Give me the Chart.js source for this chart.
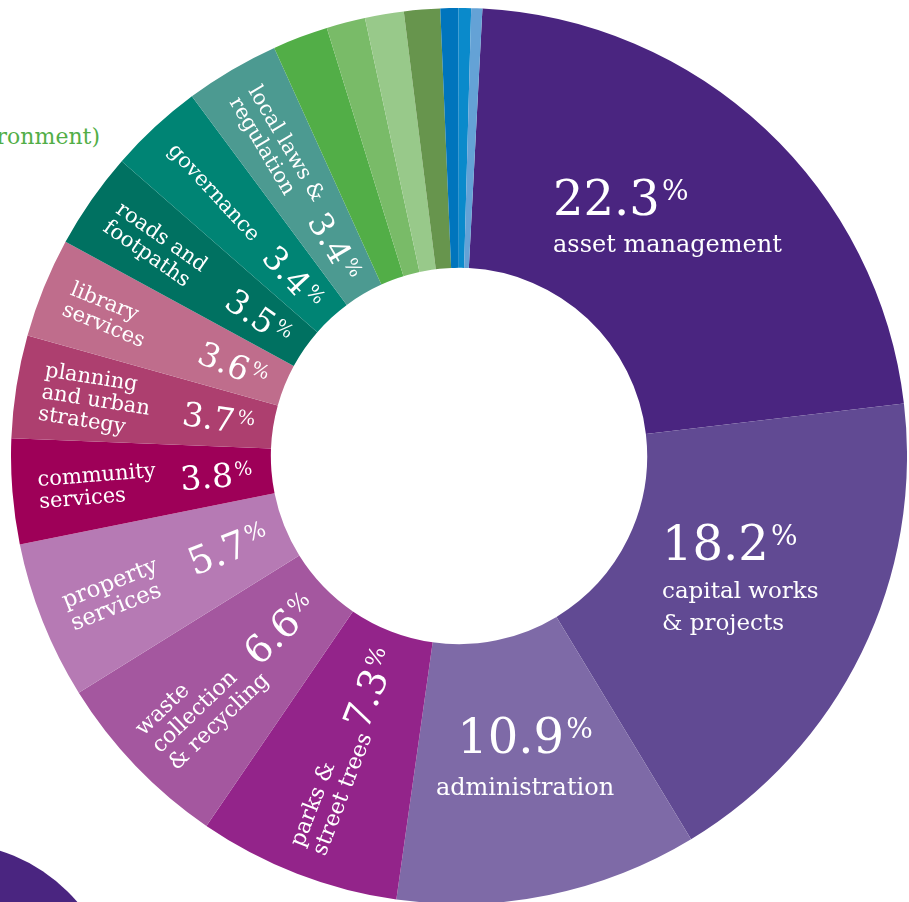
<!DOCTYPE html>
<html>
<head>
<meta charset="utf-8">
<title>Where the money goes</title>
<script src="https://cdn.jsdelivr.net/npm/chart.js@4.4.1/dist/chart.umd.min.js"></script>
<style>
  html, body { margin: 0; padding: 0; background: #fff; overflow: hidden; }
  body { width: 909px; height: 902px; position: relative; }
  #spend { position: absolute; left: 11px; top: 8px; }
  .env { position: absolute; right: 809px; top: 126px; font: 22px/22px "DejaVu Serif", serif; color: #52ae47; white-space: nowrap; }
  .dot { position: absolute; left: -217px; top: 843px; width: 334px; height: 334px; border-radius: 50%; background: #4a2580; }
</style>
</head>
<body>
<div class="env">(environment)</div>
<div class="dot"></div>
<canvas id="spend" width="896" height="896"></canvas>
<script>
// spend by service area, % of total
const services = [
  'asset management', 'capital works & projects', 'administration',
  'parks & street trees', 'waste collection & recycling', 'property services',
  'community services', 'planning and urban strategy', 'library services',
  'roads and footpaths', 'governance', 'local laws & regulation',
  'environment 1', 'environment 2', 'environment 3', 'environment 4',
  'other 1', 'other 2', 'other 3'
];
const shares = [22.3, 18.2, 10.9, 7.3, 6.6, 5.7, 3.8, 3.7, 3.6, 3.5, 3.4, 3.4,
  2.0, 1.4, 1.4, 1.3, 0.65, 0.45, 0.4];
const sliceColors = [
  '#4a2580', '#614a93', '#7e6aa7', '#93248a', '#a4579f', '#b67ab4',
  '#9e0058', '#ad3f6f', '#bf6d8c', '#007161', '#008474', '#4c9a91',
  '#52ae47', '#79bb68', '#98c98a', '#67954d', '#0075bd', '#0a8acb', '#64a2d6'
];
// how each service name is broken over lines inside its slice
const labelLines = [
  ['asset management'], ['capital works', '& projects'], ['administration'],
  ['parks &', 'street trees'], ['waste', 'collection', '& recycling'], ['property', 'services'],
  ['community', 'services'], ['planning', 'and urban', 'strategy'], ['library', 'services'],
  ['roads and', 'footpaths'], ['governance'], ['local laws &', 'regulation']
];

const serif = '"DejaVu Serif", "Liberation Serif", serif';

// big slices get flat text placed from the centre, the rest run along the slice
const layout = [
  { flat: true, x: 94, y: -241, align: 'left', pct: 48, name: 24, gap: 37, lh: 32 },
  { flat: true, x: 203, y: 104, align: 'left', pct: 48, name: 23, gap: 38, lh: 32 },
  { flat: true, x: 66, y: 297, align: 'center', pct: 48, name: 24, gap: 42, lh: 32 },
  { pct: 38, name: 22, lh: 24 },
  { pct: 38, name: 22, lh: 24 },
  { pct: 38, name: 23, lh: 24 },
  { pct: 33, name: 21, lh: 22 },
  { pct: 33, name: 21, lh: 22 },
  { pct: 33, name: 21, lh: 22 },
  { pct: 33, name: 21, lh: 22 },
  { pct: 33, name: 21, lh: 22 },
  { pct: 33, name: 21, lh: 22 }
];
const nameStart = 422;
const pctEnd = 207;

function drawPct(ctx, num, x, baseY, size, align) {
  const small = Math.round(size * 0.58);
  ctx.font = size + 'px ' + serif;
  const w1 = ctx.measureText(num).width;
  ctx.font = small + 'px ' + serif;
  const w2 = ctx.measureText('%').width;
  const total = w1 + 2 + w2;
  let sx = x;
  if (align === 'center') sx = x - total / 2;
  else if (align === 'right') sx = x - total;
  ctx.textAlign = 'left';
  ctx.font = size + 'px ' + serif;
  ctx.fillText(num, sx, baseY);
  ctx.font = small + 'px ' + serif;
  ctx.fillText('%', sx + w1 + 2, baseY - 0.73 * size + 0.73 * small);
}

const sliceLabels = {
  id: 'sliceLabels',
  afterDatasetsDraw(chart) {
    const ctx = chart.ctx;
    const arcs = chart.getDatasetMeta(0).data;
    const cx = arcs[0].x, cy = arcs[0].y;
    ctx.save();
    ctx.fillStyle = '#fff';
    ctx.textBaseline = 'alphabetic';
    labelLines.forEach((lines, i) => {
      const L = layout[i];
      const num = shares[i].toFixed(1);
      if (L.flat) {
        drawPct(ctx, num, cx + L.x, cy + L.y, L.pct, L.align);
        ctx.font = L.name + 'px ' + serif;
        ctx.textAlign = L.align;
        lines.forEach((t, k) => ctx.fillText(t, cx + L.x, cy + L.y + L.gap + k * L.lh));
        return;
      }
      const arc = arcs[i];
      const mid = (arc.startAngle + arc.endAngle) / 2;
      ctx.save();
      ctx.translate(cx, cy);
      ctx.rotate(mid + Math.PI);
      ctx.font = L.name + 'px ' + serif;
      ctx.textAlign = 'left';
      const n = lines.length;
      lines.forEach((t, k) => {
        ctx.fillText(t, -nameStart, (k - (n - 1) / 2) * L.lh + 0.36 * L.name);
      });
      drawPct(ctx, num, -pctEnd, 0.365 * L.pct, L.pct, 'right');
      ctx.restore();
    });
    ctx.restore();
  }
};

new Chart(document.getElementById('spend'), {
  type: 'doughnut',
  data: {
    labels: services,
    datasets: [{
      data: shares,
      backgroundColor: sliceColors,
      borderWidth: 0
    }]
  },
  options: {
    responsive: false,
    maintainAspectRatio: false,
    devicePixelRatio: 1,
    animation: false,
    cutout: '42%',
    rotation: 3,
    layout: { padding: 0 },
    plugins: {
      legend: { display: false },
      tooltip: { enabled: false }
    }
  },
  plugins: [sliceLabels]
});
</script>
</body>
</html>
